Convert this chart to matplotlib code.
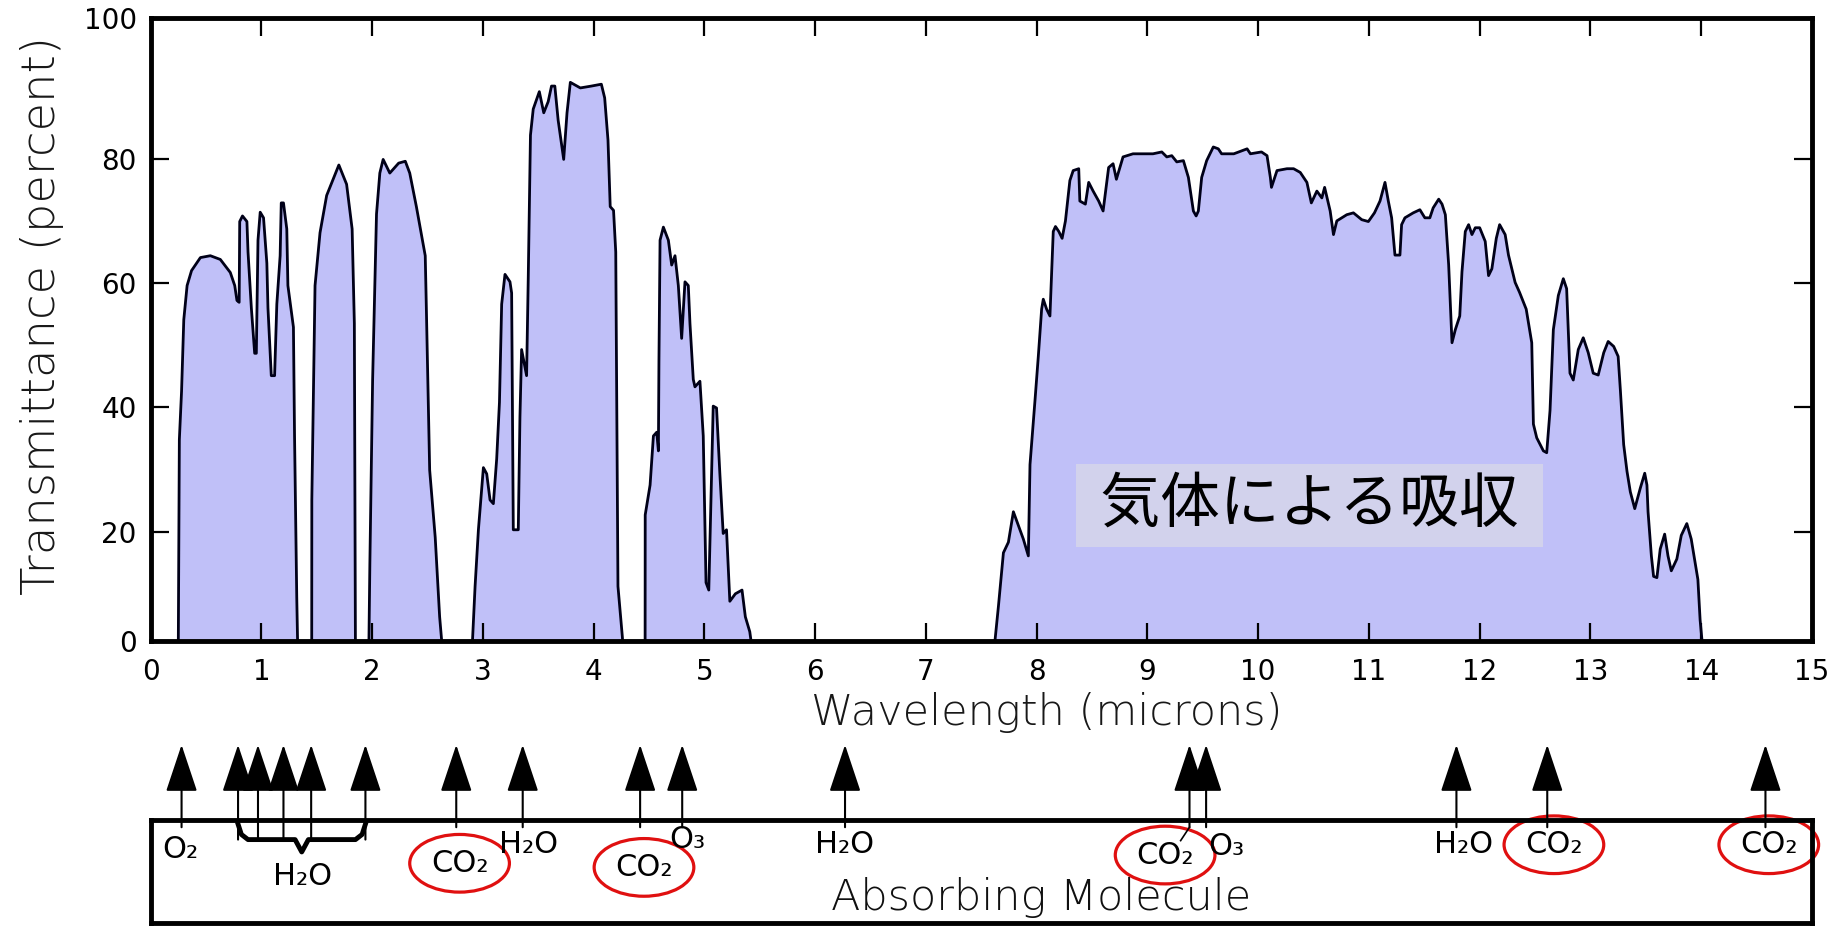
import numpy as np
import matplotlib.pyplot as plt
from matplotlib.patches import Ellipse

plt.rcParams['font.family'] = ['Liberation Sans Narrow', 'DejaVu Sans']

# Transmittance bands, (wavelength in microns, transmittance in percent)
band1 = [(0.25, 0), (0.26, 34.8), (0.28, 42.6), (0.30, 54.1), (0.33, 59.6), (0.37, 62.0),
         (0.45, 64.1), (0.54, 64.4), (0.63, 63.8), (0.72, 61.7), (0.76, 59.6), (0.78, 57.2),
         (0.80, 56.9), (0.805, 69.9), (0.83, 70.8), (0.87, 69.9), (0.88, 65.0), (0.91, 56.0),
         (0.94, 48.7), (0.955, 48.7), (0.97, 66.9), (0.99, 71.4), (1.02, 70.5), (1.05, 63.2),
         (1.06, 56.0), (1.09, 45.1), (1.12, 45.1), (1.14, 56.6), (1.17, 64.4), (1.18, 72.9),
         (1.20, 72.9), (1.23, 68.7), (1.24, 59.6), (1.29, 52.9), (1.30, 35.4), (1.32, 9.4),
         (1.33, 0)]
band2 = [(1.455, 0), (1.456, 25.1), (1.485, 59.6), (1.53, 68.1), (1.59, 74.1), (1.70, 79.0),
         (1.77, 75.9), (1.82, 68.7), (1.84, 53.5), (1.85, 0)]
band3 = [(1.97, 0), (1.98, 14.8), (2.005, 44.5), (2.04, 71.1), (2.07, 77.7), (2.10, 79.9),
         (2.16, 77.7), (2.24, 79.3), (2.30, 79.6), (2.34, 77.7), (2.40, 72.3), (2.48, 64.4),
         (2.49, 56.0), (2.52, 29.9), (2.57, 19.1), (2.61, 6.3), (2.64, 0)]
band4 = [(2.90, 0), (2.93, 11.2), (2.96, 20.3), (3.005, 30.3), (3.035, 29.3), (3.065, 25.1),
         (3.095, 24.5), (3.125, 31.7), (3.15, 40.8), (3.17, 56.6), (3.20, 61.4), (3.245, 60.2),
         (3.26, 58.4), (3.275, 20.3), (3.32, 20.3), (3.335, 38.4), (3.35, 49.3), (3.395, 45.1),
         (3.41, 60.8), (3.43, 83.8), (3.455, 88.0), (3.51, 90.8), (3.55, 87.4), (3.59, 89.2),
         (3.62, 91.7), (3.65, 91.7), (3.68, 86.2), (3.73, 79.9), (3.76, 87.4), (3.79, 92.3),
         (3.88, 91.4), (3.98, 91.7), (4.07, 92.0), (4.10, 89.8), (4.13, 83.0), (4.15, 72.3),
         (4.18, 71.7), (4.20, 65.0), (4.22, 11.2), (4.26, 3.0), (4.27, 0)]
band5 = [(4.465, 0), (4.466, 22.7), (4.51, 27.5), (4.54, 35.4), (4.57, 36.0), (4.585, 33.0),
         (4.59, 47.5), (4.60, 66.9), (4.63, 69.0), (4.675, 66.9), (4.705, 62.9), (4.735, 64.4),
         (4.765, 59.6), (4.795, 51.1), (4.825, 60.2), (4.855, 59.6), (4.87, 53.5), (4.90, 44.5),
         (4.915, 43.3), (4.96, 44.2), (4.99, 35.4), (5.015, 11.8), (5.04, 10.6), (5.08, 40.2),
         (5.11, 39.9), (5.14, 29.3), (5.17, 19.7), (5.20, 20.3), (5.23, 8.8), (5.28, 10.0),
         (5.34, 10.6), (5.37, 6.3), (5.41, 3.9), (5.44, 0)]
band6 = [(7.61, 0), (7.655, 8.0), (7.70, 16.6), (7.745, 18.3), (7.79, 23.2), (7.835, 21.0),
         (7.88, 18.8), (7.925, 16.1), (7.94, 30.8), (7.985, 41.1), (8.015, 48.2), (8.045, 55.8),
         (8.06, 57.4), (8.09, 55.8), (8.12, 54.7), (8.15, 68.3), (8.17, 69.1), (8.20, 68.3),
         (8.23, 67.2), (8.26, 70.0), (8.30, 76.5), (8.33, 78.1), (8.38, 78.4), (8.39, 73.2),
         (8.44, 72.7), (8.47, 76.2), (8.51, 74.8), (8.56, 73.2), (8.60, 71.6), (8.65, 78.6),
         (8.69, 79.2), (8.72, 76.7), (8.78, 80.3), (8.87, 80.8), (8.96, 80.8), (9.05, 80.8),
         (9.13, 81.1), (9.175, 80.3), (9.22, 80.5), (9.265, 79.5), (9.325, 79.7), (9.37, 77.0),
         (9.415, 71.6), (9.44, 70.8), (9.46, 71.6), (9.49, 77.0), (9.535, 79.7), (9.595, 81.9),
         (9.64, 81.6), (9.67, 80.8), (9.78, 80.8), (9.90, 81.6), (9.93, 80.8), (10.03, 81.1),
         (10.08, 80.5), (10.11, 77.0), (10.12, 75.4), (10.17, 78.1), (10.26, 78.4), (10.32, 78.4),
         (10.38, 77.8), (10.44, 76.2), (10.48, 72.9), (10.53, 74.8), (10.575, 73.7), (10.60, 75.4),
         (10.65, 71.6), (10.68, 67.8), (10.71, 70.0), (10.755, 70.5), (10.80, 71.0), (10.86, 71.3),
         (10.935, 70.2), (10.995, 69.9), (11.05, 71.3), (11.10, 73.2), (11.145, 76.2), (11.175, 73.2),
         (11.205, 70.5), (11.235, 64.5), (11.28, 64.5), (11.295, 69.4), (11.325, 70.5), (11.40, 71.3),
         (11.46, 71.8), (11.505, 70.5), (11.55, 70.5), (11.58, 72.1), (11.63, 73.5), (11.66, 72.7),
         (11.69, 71.0), (11.72, 62.9), (11.75, 50.4), (11.78, 52.5), (11.82, 54.7), (11.84, 61.8),
         (11.87, 68.3), (11.90, 69.4), (11.93, 67.8), (11.96, 68.9), (12.00, 68.9), (12.05, 66.7),
         (12.08, 61.2), (12.11, 62.3), (12.15, 67.2), (12.18, 69.4), (12.23, 67.8), (12.26, 64.5),
         (12.32, 60.1), (12.36, 58.5), (12.42, 55.8), (12.47, 50.4), (12.485, 37.3), (12.515, 35.1),
         (12.575, 33.0), (12.605, 32.7), (12.635, 39.5), (12.665, 52.5), (12.71, 58.0), (12.755, 60.7),
         (12.785, 59.1), (12.815, 45.5), (12.845, 44.4), (12.89, 49.3), (12.935, 51.2), (12.98, 48.8),
         (13.025, 45.5), (13.07, 45.2), (13.12, 48.8), (13.16, 50.6), (13.21, 49.8), (13.25, 48.2),
         (13.27, 42.8), (13.30, 34.0), (13.33, 29.7), (13.36, 26.4), (13.40, 23.7), (13.45, 27.0),
         (13.49, 29.4), (13.51, 27.5), (13.52, 23.2), (13.55, 16.1), (13.57, 12.8), (13.60, 12.6),
         (13.63, 17.2), (13.67, 19.6), (13.70, 16.1), (13.73, 13.7), (13.78, 15.6), (13.82, 19.4),
         (13.87, 21.3), (13.91, 18.8), (13.94, 15.6), (13.97, 12.3), (13.99, 5.8), (14.02, 0)]

y_tick_labels = ['0', '20', '40', '60', '80', '100']

# absorbing molecules: arrow wavelengths (microns)
arrow_x = [0.28, 0.79, 0.97, 1.20, 1.45, 1.94, 2.76, 3.36, 4.42, 4.80,
           6.27, 9.38, 9.53, 11.79, 12.61, 14.58]
water_group = [0.79, 0.97, 1.20, 1.45, 1.94]   # arrows joined by the brace

mol_names = ['O₂', 'H₂O', 'CO₂', 'H₂O', 'CO₂', 'O₃', 'H₂O', 'CO₂', 'O₃', 'H₂O', 'CO₂', 'CO₂']
mol_x = [0.265, 1.375, 2.79, 3.41, 4.455, 4.85, 6.27, 9.16, 9.71, 11.85, 12.67, 14.61]
mol_y = [0.71, 0.45, 0.58, 0.76, 0.54, 0.81, 0.76, 0.66, 0.74, 0.76, 0.76, 0.76]

FILL = '#c0c0f8'
LINE = '#000018'
RED = '#e01010'

pts = np.array([(0, 0)] + band1 + band2 + band3 + band4 + band5 + band6 + [(15, 0)])
wl, tr = pts[:, 0], pts[:, 1]

fig = plt.figure(figsize=(18.45, 9.27), dpi=100)

# main spectrum
ax = fig.add_axes([0.0816, 0.3085, 0.9005, 0.6724])
ax.fill_between(wl, tr, 0, color=FILL, lw=0)
ax.plot(wl, tr, color=LINE, lw=2.0)

ylo, yhi = 2.4, 102.7
ax.set_xlim(0, 15)
ax.set_ylim(ylo, yhi)
ax.set_xticks(range(16))
ax.set_yticks([ylo, 20, 40, 60, 80, yhi], y_tick_labels)
ax.tick_params(direction='in', length=13, width=1.6, top=True, right=True,
               labelsize=20)
ax.tick_params(axis='x', pad=12)
ax.tick_params(axis='y', pad=10)
for s in ax.spines.values():
    s.set_linewidth(3.5)

ax.text(10.464, 24.2, ' 気体による吸収 ', fontsize=43, family=['Noto Sans CJK JP'],
        ha='center', va='center',
        bbox=dict(boxstyle='square,pad=0.19', fc='#d2d2ec', ec='none'))

fig.text(0.0228, 0.660, 'Transmittance (percent)', rotation=90, ha='center', va='center',
         fontsize=33.5, family='DejaVu Sans', fontweight='light', color='#181818')
fig.text(0.5675, 0.2309, 'Wavelength (microns)', ha='center', va='center',
         fontsize=31, family='DejaVu Sans', fontweight='light', color='#181818')

# absorbing molecule box
ax2 = fig.add_axes([0.0816, 0.0043, 0.9005, 0.1111])
ax2.set_xlim(0, 15)
ax2.set_ylim(0, 1)
ax2.set_xticks([])
ax2.set_yticks([])
for s in ax2.spines.values():
    s.set_linewidth(3.5)
tr2 = ax2.get_xaxis_transform()

brace_y = 0.81
for x in arrow_x:
    tail = brace_y if x in water_group else 0.93
    ax2.annotate('', xy=(x, 1.73), xycoords=tr2, xytext=(x, tail), textcoords=tr2,
                 arrowprops=dict(arrowstyle='-|>,head_length=1.5,head_width=0.5',
                                 mutation_scale=20, lw=1.5, color='black',
                                 shrinkA=0, shrinkB=0),
                 annotation_clip=False)

# brace under the water arrows
b0, b1 = water_group[0], water_group[-1]
bm = (b0 + b1) / 2
bx = [b0, b0 + 0.03, b0 + 0.09, bm - 0.06, bm, bm + 0.06, b1 - 0.09, b1 - 0.03, b1]
by = [0.96, 0.86, brace_y, brace_y, 0.69, brace_y, brace_y, 0.86, 0.96]
ax2.plot(bx, by, color='black', lw=3.5, transform=tr2, clip_on=False)

# small leader from the 9.4 micron arrow to its label
ax2.plot([9.38, 9.30], [0.93, 0.80], color='black', lw=1.2, transform=tr2)

for name, x, y in zip(mol_names, mol_x, mol_y):
    ax2.text(x, y, name, transform=tr2, ha='center', va='center', fontsize=22,
             clip_on=False)
    if name == 'CO₂':
        ax2.add_patch(Ellipse((x, y), 0.9, 0.56, transform=tr2, fill=False,
                              ec=RED, lw=2.3, clip_on=False))

ax2.text(0.536, 0.25, 'Absorbing Molecule', transform=ax2.transAxes, ha='center',
         va='center', fontsize=31, family='DejaVu Sans', fontweight='light',
         color='#101010')

fig.savefig('out.png', dpi=100)
